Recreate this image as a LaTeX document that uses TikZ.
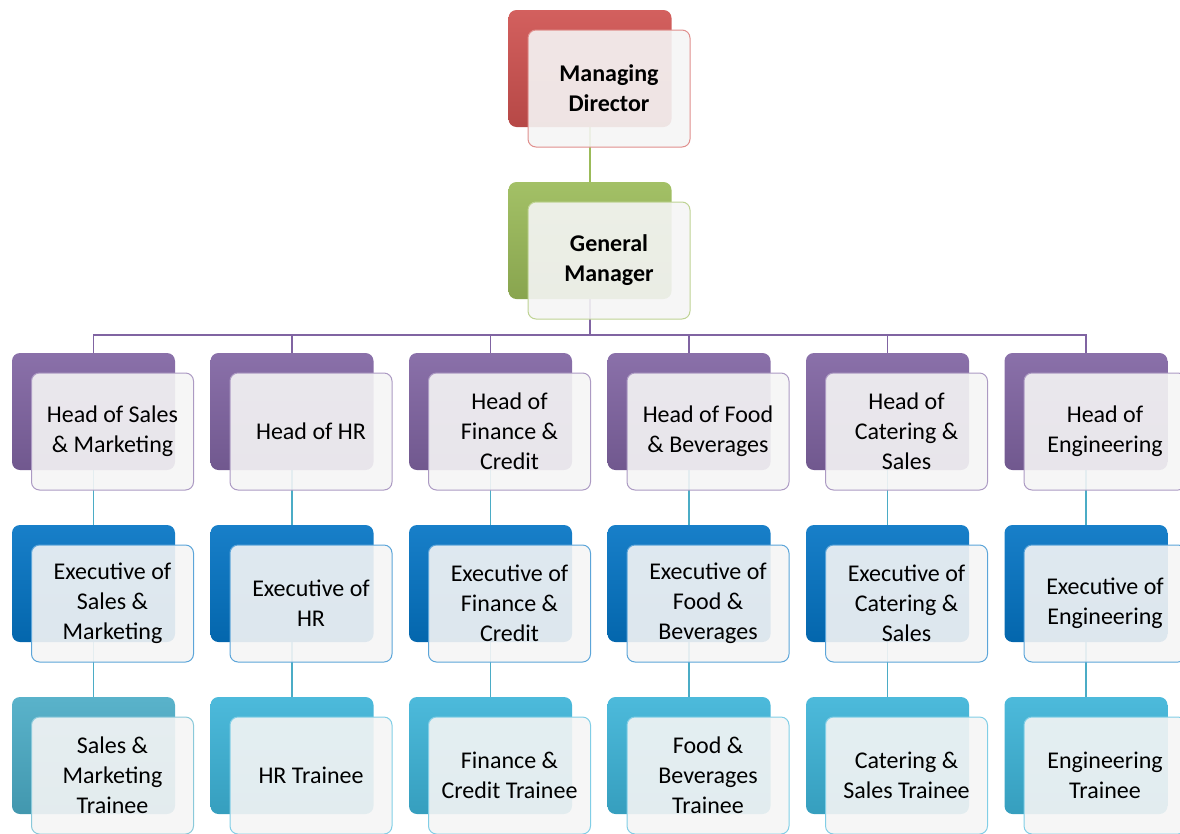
\documentclass[tikz,border=0pt]{standalone}
\usepackage{fontspec}
\setmainfont{Carlito}
\usepackage{tikz}
\usetikzlibrary{positioning}
\usetikzlibrary{backgrounds}
\usetikzlibrary{calc}

\definecolor{mdred}{HTML}{CF5250}
\definecolor{gmgreen}{HTML}{9BBB59}
\definecolor{headpurple}{HTML}{8064A2}
\definecolor{execblue}{HTML}{0474C4}
\definecolor{traincyan}{HTML}{3DB4D8}
\definecolor{linecyan}{HTML}{4BACC6}

\tikzstyle{backbox}=[minimum width=163pt,minimum height=117pt,rounded corners=8pt,inner sep=0pt]
\tikzstyle{frontbox}=[minimum width=162pt,minimum height=117pt,rounded corners=8pt,inner sep=2pt,
  fill=black!4,fill opacity=0.9,text opacity=1,align=center,line width=1pt,
  font=\fontsize{24}{30}\selectfont]
\tikzstyle{link}=[line width=1.6pt]

% back box + front box, name / centre of back box / colour / text
\newcommand{\orgunit}[5]{%
  \node[backbox,top color=#4!92!white,bottom color=#4!88!black] (#1b) at (#2,#3) {};
  \node[frontbox,draw=#4!65!white] (#1) at ([xshift=19pt,yshift=-20pt]#1b.center) {#5};
}

\begin{document}
\begin{tikzpicture}[x=1pt,y=-1pt]
\useasboundingbox (0,0) rectangle (1180,833);

\orgunit{md}{590}{68.5}{mdred}{\textbf{Managing}\\\textbf{Director}}
\orgunit{gm}{590}{240.5}{gmgreen}{\textbf{General}\\\textbf{Manager}}

% heads
\orgunit{hsm}{93.5}{411.5}{headpurple}{Head of Sales\\\& Marketing}
\orgunit{hhr}{292}{411.5}{headpurple}{Head of HR}
\orgunit{hfc}{490.5}{411.5}{headpurple}{Head of\\Finance \&\\Credit}
\orgunit{hfb}{689}{411.5}{headpurple}{Head of Food\\\& Beverages}
\orgunit{hcs}{887.5}{411.5}{headpurple}{Head of\\Catering \&\\Sales}
\orgunit{hen}{1086}{411.5}{headpurple}{Head of\\Engineering}

% executives
\orgunit{esm}{93.5}{583.5}{execblue}{Executive of\\Sales \&\\Marketing}
\orgunit{ehr}{292}{583.5}{execblue}{Executive of\\HR}
\orgunit{efc}{490.5}{583.5}{execblue}{Executive of\\Finance \&\\Credit}
\orgunit{efb}{689}{583.5}{execblue}{Executive of\\Food \&\\Beverages}
\orgunit{ecs}{887.5}{583.5}{execblue}{Executive of\\Catering \&\\Sales}
\orgunit{een}{1086}{583.5}{execblue}{Executive of\\Engineering}

% trainees
\orgunit{tsm}{93.5}{755.5}{linecyan}{Sales \&\\Marketing\\Trainee}
\orgunit{thr}{292}{755.5}{traincyan}{HR Trainee}
\orgunit{tfc}{490.5}{755.5}{traincyan}{Finance \&\\Credit Trainee}
\orgunit{tfb}{689}{755.5}{traincyan}{Food \&\\Beverages\\Trainee}
\orgunit{tcs}{887.5}{755.5}{traincyan}{Catering \&\\Sales Trainee}
\orgunit{ten}{1086}{755.5}{traincyan}{Engineering\\Trainee}

\begin{scope}[on background layer]
\draw[link,gmgreen] (mdb.south) -- (gmb.north);
\foreach \h in {hsm,hhr,hfc,hfb,hcs,hen}
  \draw[link,headpurple] (gmb.south) -- ++(0,36) -| (\h b.north);
\foreach \a/\b in {hsm/esm,hhr/ehr,hfc/efc,hfb/efb,hcs/ecs,hen/een,
                   esm/tsm,ehr/thr,efc/tfc,efb/tfb,ecs/tcs,een/ten}
  \draw[link,linecyan] (\a b.south) -- (\b b.north);
\end{scope}
\end{tikzpicture}
\end{document}
